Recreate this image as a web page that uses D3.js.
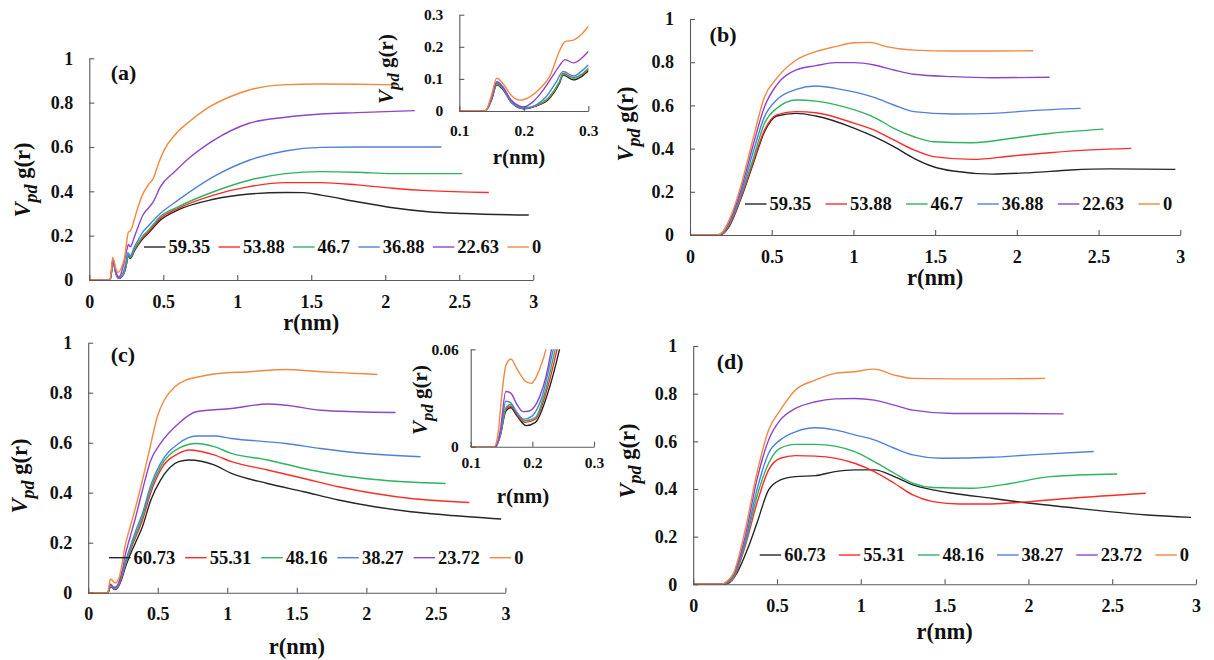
<!DOCTYPE html>
<html>
<head>
<meta charset="utf-8">
<script src="https://cdn.jsdelivr.net/npm/d3@7"></script>
<style>
  html, body { margin: 0; padding: 0; background: #fff; }
  svg { display: block; }
  text { font-family: "Liberation Serif", "Times New Roman", "DejaVu Serif", serif; font-weight: bold; fill: #111; }
</style>
</head>
<body>
<svg id="chart" width="1214" height="660"></svg>
<script>
// ---------- data: r (nm) vs Vpd g(r) ----------
const legendAB = ["59.35", "53.88", "46.7", "36.88", "22.63", "0"];
const legendCD = ["60.73", "55.31", "48.16", "38.27", "23.72", "0"];
const seriesColors = ["#262626", "#ff2b2b", "#2eb360", "#4f81d9", "#8f45c7", "#f3883f"];

const mainTicksX = [0, 0.5, 1, 1.5, 2, 2.5, 3];
const mainTicksY = [0, 0.2, 0.4, 0.6, 0.8, 1];
const insetTicksX = [0.1, 0.2, 0.3];
const insetATicksY = [0, 0.1, 0.2, 0.3];
const insetCTicksY = [0, 0.06];

// panel (a)
const a5935 = [[0,0],[0.14,0],[0.15,0.035],[0.158,0.082],[0.168,0.066],[0.18,0.028],[0.2,0.007],[0.22,0.016],[0.24,0.04],[0.255,0.085],[0.261,0.112],[0.277,0.097],[0.29,0.108],[0.3,0.125],[0.33,0.158],[0.36,0.185],[0.4,0.212],[0.48,0.27],[0.6,0.316],[0.84,0.364],[1.08,0.388],[1.325,0.395],[1.45,0.394],[1.566,0.383],[1.81,0.353],[2.05,0.326],[2.29,0.308],[2.53,0.3],[2.97,0.293]];
const a5388 = [[0,0],[0.14,0],[0.15,0.036],[0.158,0.085],[0.168,0.069],[0.18,0.03],[0.2,0.008],[0.22,0.017],[0.24,0.043],[0.255,0.09],[0.261,0.117],[0.277,0.104],[0.29,0.113],[0.3,0.13],[0.33,0.163],[0.36,0.19],[0.4,0.218],[0.48,0.278],[0.6,0.323],[0.84,0.383],[1.08,0.421],[1.325,0.439],[1.566,0.439],[1.81,0.429],[2.05,0.414],[2.29,0.403],[2.7,0.395]];
const a467 = [[0,0],[0.14,0],[0.15,0.036],[0.158,0.085],[0.168,0.069],[0.18,0.03],[0.2,0.01],[0.22,0.018],[0.24,0.045],[0.255,0.09],[0.261,0.115],[0.277,0.102],[0.29,0.115],[0.3,0.133],[0.33,0.167],[0.36,0.197],[0.4,0.225],[0.48,0.286],[0.6,0.33],[0.84,0.398],[1.08,0.45],[1.325,0.48],[1.566,0.489],[1.81,0.486],[2.05,0.48],[2.52,0.48]];
const a3688 = [[0,0],[0.14,0],[0.15,0.037],[0.158,0.088],[0.168,0.072],[0.18,0.03],[0.2,0.008],[0.22,0.02],[0.235,0.045],[0.25,0.09],[0.261,0.123],[0.277,0.109],[0.29,0.125],[0.3,0.143],[0.33,0.18],[0.36,0.215],[0.4,0.245],[0.48,0.3],[0.6,0.36],[0.84,0.466],[1.08,0.54],[1.325,0.582],[1.566,0.598],[1.81,0.6],[2.38,0.6]];
const a2263 = [[0,0],[0.14,0],[0.15,0.04],[0.158,0.091],[0.168,0.075],[0.18,0.035],[0.2,0.013],[0.215,0.03],[0.23,0.065],[0.245,0.11],[0.256,0.143],[0.264,0.16],[0.277,0.15],[0.29,0.165],[0.3,0.185],[0.33,0.24],[0.36,0.29],[0.4,0.325],[0.43,0.35],[0.48,0.42],[0.58,0.49],[0.675,0.55],[0.84,0.63],[1.08,0.707],[1.325,0.734],[1.566,0.749],[1.81,0.755],[2.2,0.764]];
const a0 = [[0,0],[0.14,0],[0.15,0.05],[0.158,0.102],[0.168,0.085],[0.18,0.05],[0.194,0.034],[0.21,0.045],[0.225,0.07],[0.24,0.107],[0.256,0.19],[0.264,0.216],[0.277,0.221],[0.29,0.24],[0.3,0.263],[0.33,0.33],[0.36,0.385],[0.4,0.43],[0.43,0.455],[0.47,0.53],[0.506,0.586],[0.578,0.654],[0.675,0.714],[0.795,0.774],[0.964,0.83],[1.08,0.857],[1.3,0.88],[1.566,0.884],[1.81,0.883],[2.08,0.88]];

// panel (b)
const b5935 = [[0,0],[0.18,0],[0.2,0.005],[0.24,0.04],[0.31,0.165],[0.384,0.324],[0.456,0.478],[0.53,0.551],[0.65,0.563],[0.77,0.551],[1.007,0.494],[1.127,0.455],[1.247,0.409],[1.37,0.355],[1.49,0.316],[1.61,0.296],[1.85,0.282],[2.09,0.289],[2.33,0.301],[2.57,0.306],[2.97,0.304]];
const b5388 = [[0,0],[0.175,0],[0.2,0.007],[0.24,0.045],[0.31,0.17],[0.384,0.332],[0.456,0.486],[0.53,0.556],[0.65,0.571],[0.77,0.566],[1.007,0.517],[1.127,0.486],[1.247,0.44],[1.37,0.394],[1.49,0.363],[1.73,0.35],[1.97,0.366],[2.2,0.381],[2.45,0.394],[2.7,0.401]];
const b467 = [[0,0],[0.175,0],[0.2,0.008],[0.24,0.05],[0.31,0.18],[0.384,0.347],[0.456,0.517],[0.53,0.586],[0.65,0.625],[0.77,0.62],[1.007,0.579],[1.127,0.545],[1.247,0.494],[1.37,0.455],[1.49,0.432],[1.73,0.427],[1.97,0.448],[2.2,0.47],[2.53,0.49]];
const b3688 = [[0,0],[0.17,0],[0.2,0.01],[0.24,0.055],[0.31,0.19],[0.384,0.378],[0.456,0.548],[0.53,0.625],[0.65,0.674],[0.77,0.69],[0.89,0.679],[1.127,0.637],[1.247,0.602],[1.37,0.571],[1.61,0.56],[1.85,0.563],[2.09,0.576],[2.39,0.586]];
const b2263 = [[0,0],[0.17,0],[0.2,0.012],[0.24,0.06],[0.31,0.205],[0.384,0.41],[0.456,0.594],[0.53,0.694],[0.65,0.764],[0.77,0.784],[0.89,0.798],[1.007,0.798],[1.127,0.787],[1.247,0.764],[1.37,0.744],[1.61,0.733],[1.85,0.728],[2.2,0.73]];
const b0 = [[0,0],[0.168,0],[0.2,0.015],[0.24,0.07],[0.31,0.224],[0.384,0.44],[0.456,0.64],[0.53,0.725],[0.65,0.81],[0.77,0.849],[0.89,0.872],[1.007,0.89],[1.1,0.892],[1.2,0.872],[1.37,0.856],[1.61,0.852],[1.85,0.852],[2.1,0.853]];

// panel (c)
const c6073 = [[0,0],[0.14,0],[0.148,0.007],[0.157,0.022],[0.165,0.024],[0.175,0.019],[0.19,0.013],[0.205,0.015],[0.225,0.033],[0.244,0.06],[0.264,0.097],[0.3,0.15],[0.34,0.2],[0.39,0.264],[0.45,0.37],[0.52,0.45],[0.65,0.524],[0.726,0.531],[0.905,0.511],[1.03,0.477],[1.29,0.437],[1.55,0.404],[1.8,0.371],[2.06,0.344],[2.32,0.324],[2.57,0.311],[2.97,0.295]];
const c5531 = [[0,0],[0.14,0],[0.148,0.007],[0.157,0.023],[0.165,0.025],[0.175,0.02],[0.188,0.015],[0.205,0.017],[0.222,0.033],[0.24,0.06],[0.264,0.107],[0.3,0.165],[0.34,0.22],[0.39,0.29],[0.45,0.4],[0.52,0.49],[0.65,0.557],[0.726,0.571],[0.905,0.551],[1.03,0.524],[1.29,0.491],[1.55,0.457],[1.8,0.424],[2.06,0.397],[2.32,0.377],[2.74,0.361]];
const c4816 = [[0,0],[0.14,0],[0.148,0.007],[0.157,0.024],[0.165,0.026],[0.175,0.021],[0.188,0.016],[0.205,0.018],[0.22,0.033],[0.237,0.06],[0.264,0.11],[0.3,0.17],[0.34,0.23],[0.39,0.304],[0.45,0.415],[0.52,0.504],[0.65,0.577],[0.777,0.597],[0.905,0.584],[1.03,0.557],[1.29,0.531],[1.55,0.497],[1.8,0.471],[2.06,0.453],[2.57,0.437]];
const c3827 = [[0,0],[0.14,0],[0.148,0.008],[0.157,0.028],[0.165,0.027],[0.175,0.021],[0.187,0.017],[0.2,0.019],[0.215,0.03],[0.234,0.06],[0.25,0.085],[0.264,0.117],[0.3,0.18],[0.34,0.245],[0.39,0.317],[0.45,0.43],[0.52,0.517],[0.65,0.597],[0.777,0.627],[0.905,0.627],[1.03,0.617],[1.42,0.597],[1.67,0.577],[1.93,0.56],[2.39,0.544]];
const c2372 = [[0,0],[0.14,0],[0.148,0.01],[0.157,0.034],[0.165,0.033],[0.175,0.026],[0.185,0.0216],[0.195,0.022],[0.212,0.031],[0.222,0.043],[0.231,0.06],[0.25,0.1],[0.264,0.144],[0.3,0.22],[0.34,0.3],[0.39,0.41],[0.45,0.53],[0.52,0.597],[0.65,0.677],[0.777,0.724],[1.03,0.737],[1.29,0.755],[1.42,0.75],[1.67,0.73],[1.93,0.724],[2.21,0.721]];
const c0 = [[0,0],[0.138,0],[0.145,0.01],[0.15,0.03],[0.157,0.05],[0.165,0.054],[0.175,0.048],[0.187,0.041],[0.198,0.039],[0.205,0.042],[0.212,0.048],[0.222,0.06],[0.235,0.09],[0.264,0.184],[0.3,0.26],[0.34,0.34],[0.39,0.45],[0.44,0.57],[0.5,0.71],[0.546,0.77],[0.623,0.824],[0.7,0.85],[0.8,0.864],[0.905,0.875],[1.16,0.884],[1.42,0.893],[1.67,0.884],[1.93,0.877],[2.08,0.873]];

// panel (d)
const d6073 = [[0,0],[0.18,0],[0.21,0.005],[0.26,0.046],[0.33,0.158],[0.38,0.256],[0.45,0.396],[0.52,0.438],[0.61,0.452],[0.73,0.456],[0.846,0.473],[0.963,0.48],[1.08,0.48],[1.2,0.452],[1.31,0.417],[1.43,0.396],[1.55,0.382],[1.78,0.361],[2.01,0.34],[2.25,0.322],[2.48,0.305],[2.71,0.291],[2.97,0.281]];
const d5531 = [[0,0],[0.175,0],[0.2,0.005],[0.24,0.025],[0.31,0.16],[0.38,0.34],[0.45,0.48],[0.52,0.529],[0.61,0.54],[0.73,0.538],[0.963,0.508],[1.08,0.473],[1.2,0.424],[1.31,0.375],[1.43,0.347],[1.59,0.337],[1.78,0.337],[2.01,0.347],[2.25,0.361],[2.7,0.382]];
const d4816 = [[0,0],[0.175,0],[0.2,0.006],[0.24,0.03],[0.31,0.17],[0.38,0.368],[0.45,0.508],[0.52,0.571],[0.61,0.587],[0.73,0.587],[0.963,0.557],[1.08,0.515],[1.2,0.466],[1.31,0.424],[1.43,0.406],[1.66,0.403],[1.9,0.424],[2.13,0.452],[2.53,0.463]];
const d3827 = [[0,0],[0.17,0],[0.2,0.008],[0.24,0.035],[0.31,0.18],[0.38,0.396],[0.45,0.55],[0.52,0.606],[0.61,0.64],[0.73,0.657],[0.846,0.648],[0.963,0.627],[1.08,0.606],[1.2,0.571],[1.31,0.543],[1.48,0.529],[1.78,0.533],[2.01,0.543],[2.39,0.557]];
const d2372 = [[0,0],[0.17,0],[0.2,0.01],[0.24,0.04],[0.31,0.2],[0.38,0.438],[0.45,0.606],[0.52,0.69],[0.61,0.738],[0.73,0.766],[0.846,0.778],[0.963,0.78],[1.08,0.773],[1.2,0.752],[1.31,0.731],[1.55,0.717],[1.78,0.717],[2.21,0.715]];
const d0 = [[0,0],[0.168,0],[0.2,0.012],[0.24,0.046],[0.31,0.228],[0.38,0.466],[0.45,0.648],[0.52,0.731],[0.61,0.815],[0.73,0.857],[0.846,0.885],[0.963,0.892],[1.08,0.903],[1.2,0.878],[1.31,0.864],[1.55,0.862],[1.78,0.862],[2.1,0.864]];

// ---------- layout ----------
const svg = d3.select("#chart");
const fmt = d3.format("~g");
const serif = '"Liberation Serif", "Times New Roman", "DejaVu Serif", serif';

const panels = [
  { id: "a", series: [a5935, a5388, a467, a3688, a2263, a0], names: legendAB,
    x0: 89.3, x1: 533.2, yTop: 58.3, yBot: 280,
    tag: [110.7, 80], yTitle: [30, 180], xTitleY: 330, legend: { x: 144, y: 247, gap: 8.4 } },
  { id: "b", series: [b5935, b5388, b467, b3688, b2263, b0], names: legendAB,
    x0: 690, x1: 1180.3, yTop: 19, yBot: 235,
    tag: [709.6, 42], yTitle: [633, 124], xTitleY: 285, legend: { x: 745, y: 204, gap: 14.4 } },
  { id: "c", series: [c6073, c5531, c4816, c3827, c2372, c0], names: legendCD,
    x0: 88.2, x1: 505.4, yTop: 342.7, yBot: 592.7,
    tag: [110.7, 362], yTitle: [27, 476], xTitleY: 653.5, legend: { x: 109, y: 557.7, gap: 10 } },
  { id: "d", series: [d6073, d5531, d4816, d3827, d2372, d0], names: legendCD,
    x0: 693.2, x1: 1196, yTop: 346, yBot: 584.3,
    tag: [716.7, 369], yTitle: [634.5, 461], xTitleY: 638.5, legend: { x: 759.7, y: 555, gap: 13 } }
];

const insets = [
  { id: "ia", series: [a5935, a5388, a467, a3688, a2263, a0], ticksY: insetATicksY, domY: [0, 0.3],
    x0: 459.3, x1: 588.3, yTop: 14.7, yBot: 111, yTitle: [393, 69], xTitle: [519, 164], tickPad: 14, yPad: 16 },
  { id: "ic", series: [c6073, c5531, c4816, c3827, c2372, c0], ticksY: insetCTicksY, domY: [0, 0.06],
    x0: 470.7, x1: 594, yTop: 349.3, yBot: 446.7, yTitle: [427, 400], xTitle: [523, 502.5], tickPad: 10, yPad: 12 }
];

const axisColor = "#595959";

function styleAxis(g, fontSize) {
  g.attr("font-family", null).attr("font-size", null);
  g.select(".domain").attr("stroke", axisColor).attr("stroke-width", 1.1);
  g.selectAll(".tick line").attr("stroke", axisColor).attr("stroke-width", 1.1);
  g.selectAll(".tick text")
    .attr("fill", "#111")
    .style("font-family", serif)
    .style("font-weight", "bold")
    .style("font-size", fontSize + "px");
}

function yTitle(g, x, y, size) {
  const t = g.append("text")
    .attr("transform", `translate(${x},${y}) rotate(-90)`)
    .attr("text-anchor", "middle")
    .style("font-family", serif)
    .style("font-size", size + "px");
  t.append("tspan").text("V").style("font-style", "italic");
  t.append("tspan").text("pd").style("font-style", "italic")
    .style("font-size", (size * 0.8) + "px").attr("dy", size * 0.3);
  t.append("tspan").text(" g(r)").attr("dy", -size * 0.3);
}

function drawLines(g, p, xs, ys) {
  const line = d3.line().x(d => xs(d[0])).y(d => ys(d[1])).curve(d3.curveMonotoneX);
  g.selectAll("path.series")
    .data(p.series)
    .join("path")
    .attr("class", "series")
    .attr("fill", "none")
    .attr("stroke", (d, i) => seriesColors[i])
    .attr("stroke-width", 1.4)
    .attr("stroke-linejoin", "round")
    .attr("d", line);
}

// ---------- main panels ----------
panels.forEach(p => {
  const g = svg.append("g").attr("class", "panel-" + p.id);
  const xs = d3.scaleLinear().domain([0, 3]).range([p.x0, p.x1]);
  const ys = d3.scaleLinear().domain([0, 1]).range([p.yBot, p.yTop]);

  drawLines(g, p, xs, ys);

  const ax = g.append("g").attr("transform", `translate(0,${p.yBot})`)
    .call(d3.axisBottom(xs).tickValues(mainTicksX).tickFormat(fmt).tickSizeInner(-5).tickSizeOuter(0).tickPadding(15));
  styleAxis(ax, 18);
  const ay = g.append("g").attr("transform", `translate(${p.x0},0)`)
    .call(d3.axisLeft(ys).tickValues(mainTicksY).tickFormat(fmt).tickSizeInner(-5).tickSizeOuter(0).tickPadding(16));
  styleAxis(ay, 18);

  g.append("text").attr("x", p.tag[0]).attr("y", p.tag[1])
    .style("font-family", serif).style("font-size", "22px").text(`(${p.id})`);
  g.append("text").attr("x", (p.x0 + p.x1) / 2).attr("y", p.xTitleY)
    .attr("text-anchor", "middle").style("font-family", serif).style("font-size", "22.5px").text("r(nm)");
  yTitle(g, p.yTitle[0], p.yTitle[1], 22.5);

  // legend: short line followed by its label
  let lx = p.legend.x;
  p.names.forEach((name, i) => {
    g.append("line")
      .attr("x1", lx).attr("x2", lx + 21.5)
      .attr("y1", p.legend.y).attr("y2", p.legend.y)
      .attr("stroke", seriesColors[i]).attr("stroke-width", 1.4);
    const t = g.append("text")
      .attr("x", lx + 24.5).attr("y", p.legend.y)
      .attr("dy", "0.34em")
      .style("font-family", serif)
      .style("font-size", "18.5px")
      .text(name);
    lx += 24.5 + t.node().getComputedTextLength() + p.legend.gap;
  });
});

// ---------- insets: short-range detail ----------
insets.forEach(p => {
  const g = svg.append("g").attr("class", "inset-" + p.id);
  const xs = d3.scaleLinear().domain([0.1, 0.3]).range([p.x0, p.x1]);
  const ys = d3.scaleLinear().domain(p.domY).range([p.yBot, p.yTop]);

  g.append("clipPath").attr("id", "clip-" + p.id)
    .append("rect").attr("x", p.x0).attr("y", p.yTop)
    .attr("width", p.x1 - p.x0).attr("height", p.yBot - p.yTop);
  const lg = g.append("g").attr("clip-path", `url(#clip-${p.id})`);
  const near = { series: p.series.map(s => s.filter(d => d[0] <= 0.4)) };
  drawLines(lg, near, xs, ys);

  const ax = g.append("g").attr("transform", `translate(0,${p.yBot})`)
    .call(d3.axisBottom(xs).tickValues(insetTicksX).tickFormat(fmt).tickSizeInner(-5).tickSizeOuter(0).tickPadding(p.tickPad));
  styleAxis(ax, 15.5);
  const ay = g.append("g").attr("transform", `translate(${p.x0},0)`)
    .call(d3.axisLeft(ys).tickValues(p.ticksY).tickFormat(fmt).tickSizeInner(-5).tickSizeOuter(0).tickPadding(p.yPad));
  styleAxis(ay, 15.5);

  g.append("text").attr("x", p.xTitle[0]).attr("y", p.xTitle[1])
    .attr("text-anchor", "middle").style("font-family", serif).style("font-size", "21px").text("r(nm)");
  yTitle(g, p.yTitle[0], p.yTitle[1], 21);
});
</script>
</body>
</html>
